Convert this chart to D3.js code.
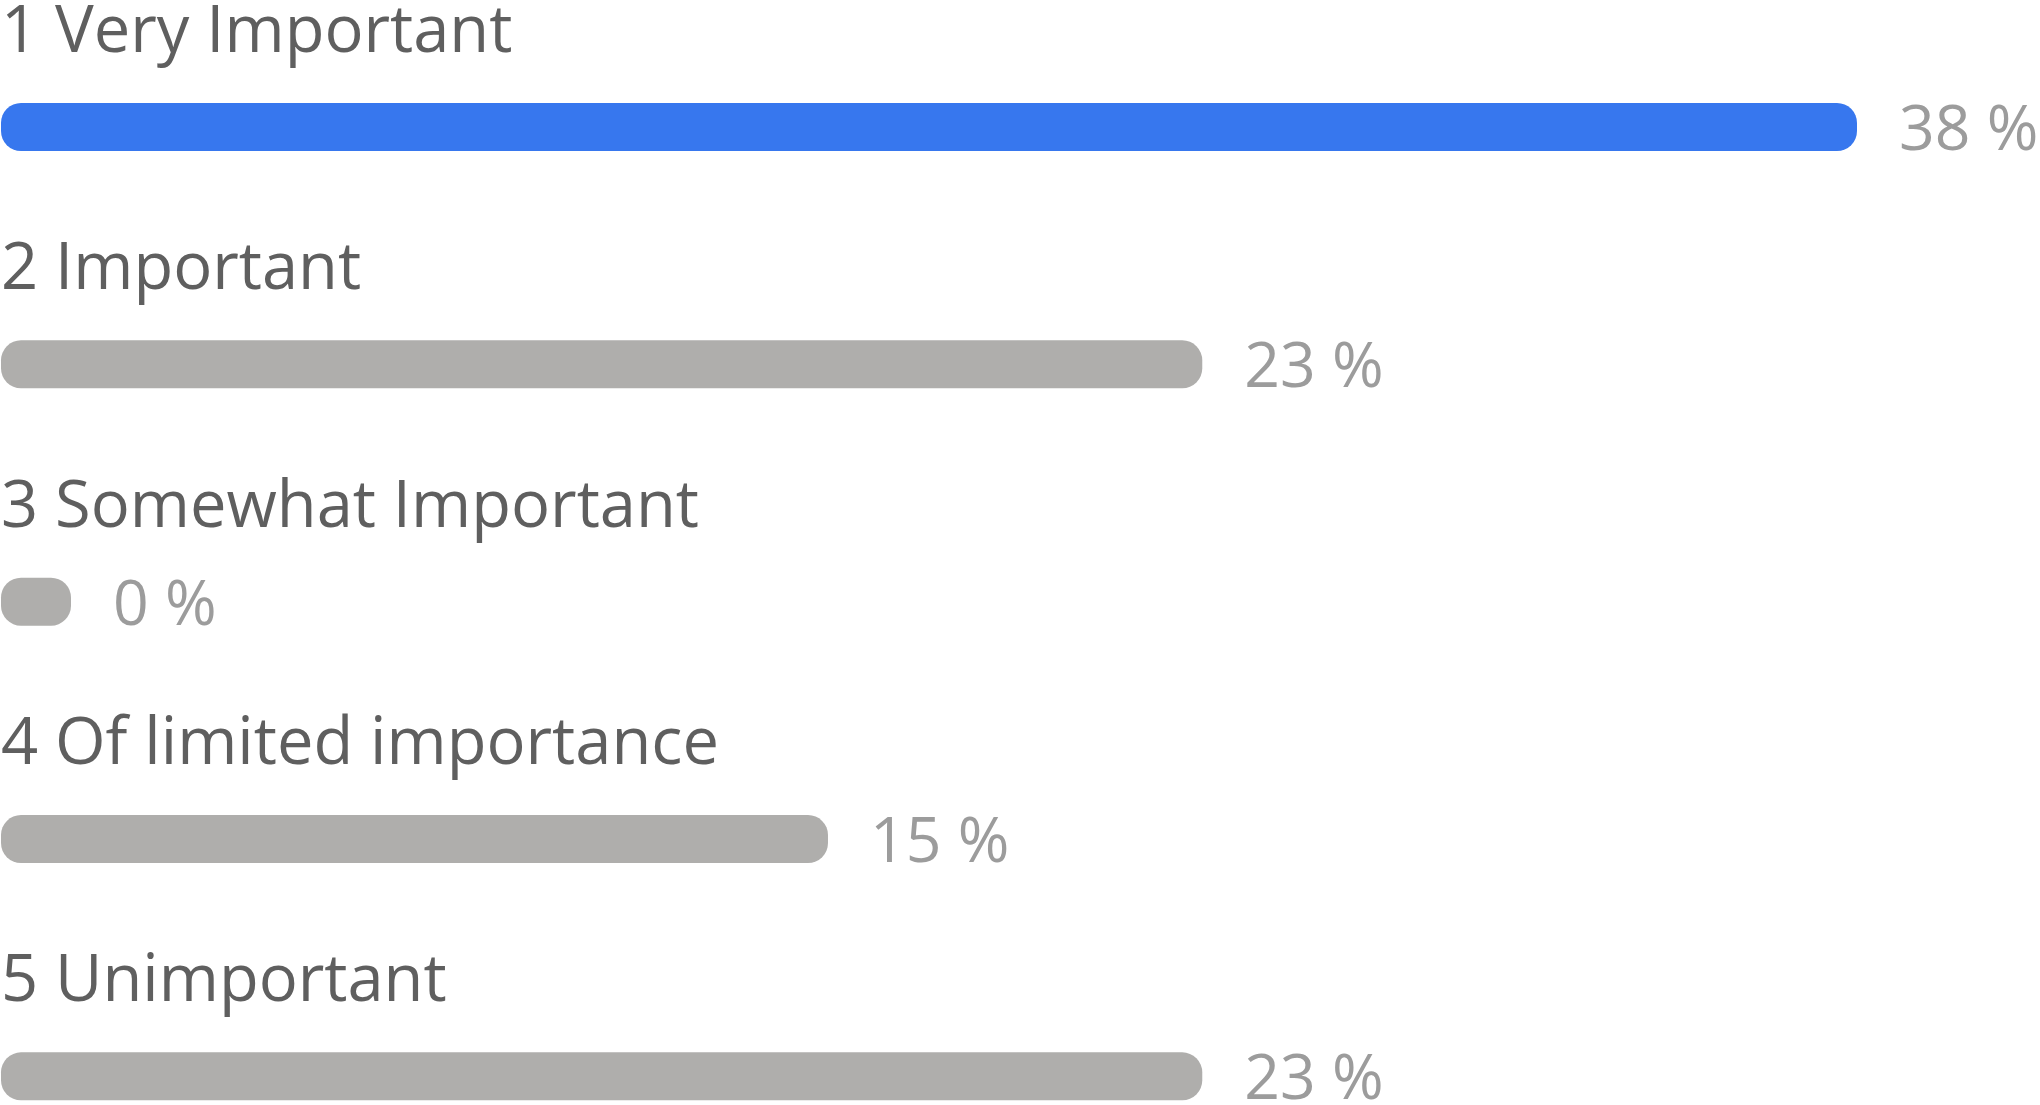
<!DOCTYPE html>
<html>
<head>
<meta charset="utf-8">
<script src="https://cdn.jsdelivr.net/npm/d3@7"></script>
<style>
  html, body { margin: 0; padding: 0; background: #ffffff; }
  svg { display: block; }
</style>
</head>
<body>
<script>
const categories = ["1 Very Important", "2 Important", "3 Somewhat Important", "4 Of limited importance", "5 Unimportant"];
const percents = [38, 23, 0, 15, 23];
const valueLabels = ["38 %", "23 %", "0 %", "15 %", "23 %"];
const highlighted = ["1 Very Important"];

const W = 2040, H = 1105;
const svg = d3.select("body").append("svg").attr("width", W).attr("height", H);

const y = d3.scaleBand().domain(categories).range([0, 1186.7]).padding(0);
const x = d3.scaleSymlog().constant(140).domain([0, d3.max(percents)]).range([70, 1856]);

const rows = svg.selectAll("g.row")
  .data(categories.map((c, i) => ({ c, p: percents[i], lab: valueLabels[i] })))
  .join("g").attr("class", "row")
  .attr("transform", d => `translate(0,${y(d.c)})`);

rows.append("text")
  .attr("x", 1).attr("y", 52)
  .attr("font-family", "'Open Sans', 'Noto Sans', sans-serif")
  .attr("font-size", 65)
  .attr("fill", "#5f5f5f")
  .text(d => d.c);

rows.append("rect")
  .attr("x", 1).attr("y", 103)
  .attr("width", d => x(d.p)).attr("height", 48)
  .attr("rx", 20).attr("ry", 20)
  .attr("fill", d => highlighted.includes(d.c) ? "#3777ee" : "#afaeac");

rows.append("text")
  .attr("x", d => 1 + x(d.p) + 42).attr("y", 150)
  .attr("font-family", "'Open Sans', 'Noto Sans', sans-serif")
  .attr("font-size", 62.5)
  .attr("fill", "#9c9c9c")
  .text(d => d.lab);
</script>
</body>
</html>
